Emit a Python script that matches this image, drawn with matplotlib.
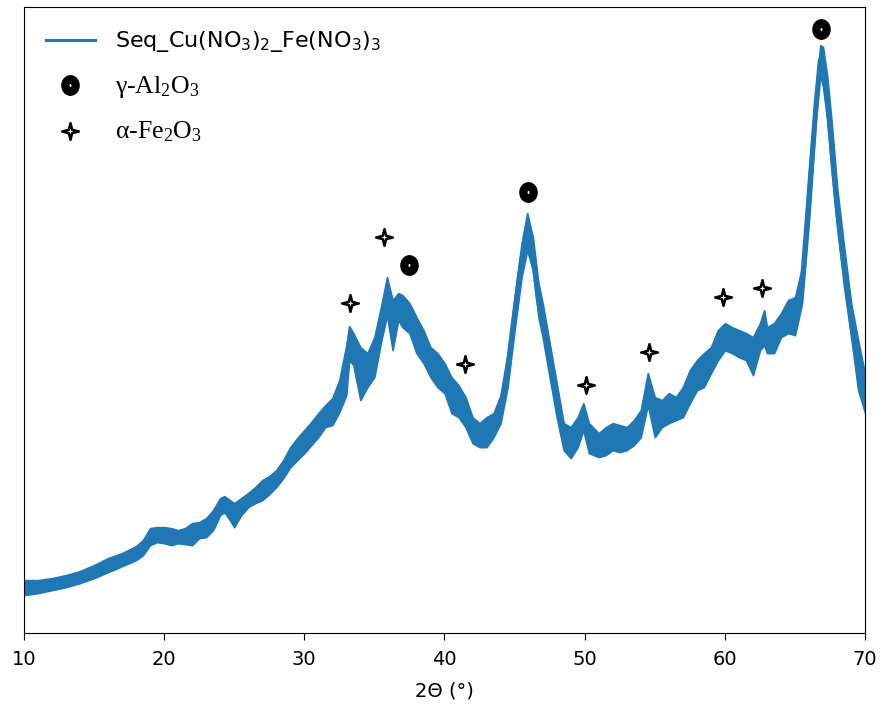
import numpy as np
import matplotlib
matplotlib.use("Agg")
import matplotlib.pyplot as plt
from matplotlib.lines import Line2D
from matplotlib.path import Path

# ── Data (arbitrary intensity units) ─────────────────────────────────────────
two_theta = [10.0, 11.0, 12.0, 13.0, 14.0, 15.0, 16.0, 17.0, 18.0, 18.5,
             19.0, 19.5, 20.0, 20.5, 21.0, 21.5, 22.0, 22.5, 23.0, 23.5,
             24.0, 24.3, 24.7, 25.0, 25.5, 26.0, 26.5, 27.0, 27.5, 28.0,
             28.5, 29.0, 29.5, 30.0, 30.5, 31.0, 31.5, 32.0, 32.5, 33.0,
             33.2, 33.5, 34.0, 34.5, 35.0, 35.5, 35.9, 36.3, 36.7, 37.0,
             37.5, 38.0, 38.5, 39.0, 39.5, 40.0, 40.5, 41.0, 41.5, 42.0,
             42.5, 43.0, 43.5, 44.0, 44.5, 45.0, 45.5, 45.9, 46.3, 46.7,
             47.0, 47.5, 48.0, 48.5, 49.0, 49.5, 49.9, 50.3, 51.0, 51.5,
             52.0, 52.5, 53.0, 53.5, 54.0, 54.5, 55.0, 55.5, 56.0, 56.5,
             57.0, 57.5, 58.0, 58.5, 59.0, 59.5, 60.0, 60.5, 61.0, 61.5,
             62.0, 62.5, 62.8, 63.0, 63.5, 64.0, 64.5, 65.0, 65.5, 66.0,
             66.5, 66.8, 67.0, 67.3, 67.6, 68.0, 68.5, 69.0, 69.5, 70.0]

# upper / lower edge of the noisy trace
i_high = [53, 53, 55, 58, 62, 68, 75, 80, 87, 93,
          105, 106, 106, 105, 103, 105, 110, 111, 115, 123,
          135, 137, 133, 130, 135, 140, 146, 153, 157, 163,
          173, 186, 195, 203, 211, 220, 228, 235, 253, 288,
          307, 300, 286, 280, 296, 328, 356, 333, 340, 338,
          330, 316, 303, 286, 280, 270, 256, 248, 236, 216,
          210, 216, 220, 238, 280, 336, 390, 420, 396, 350,
          330, 290, 250, 210, 206, 216, 230, 210, 200, 206,
          210, 208, 206, 213, 223, 260, 236, 233, 240, 236,
          246, 263, 273, 280, 286, 303, 310, 306, 303, 300,
          296, 310, 323, 306, 310, 320, 333, 336, 366, 463,
          546, 588, 586, 556, 513, 446, 386, 330, 293, 258]

i_low = [38, 40, 43, 46, 50, 55, 61, 67, 73, 78,
         88, 91, 90, 88, 90, 89, 88, 95, 96, 103,
         118, 121, 113, 106, 118, 126, 130, 133, 139, 146,
         155, 166, 173, 180, 188, 196, 206, 208, 221, 238,
         273, 268, 233, 246, 256, 293, 318, 283, 313, 306,
         300, 280, 270, 256, 246, 240, 220, 216, 206, 190,
         186, 186, 196, 210, 246, 303, 356, 383, 363, 316,
         296, 256, 216, 183, 175, 186, 203, 180, 176, 178,
         183, 181, 183, 188, 196, 228, 196, 206, 210, 213,
         216, 230, 243, 246, 260, 273, 283, 280, 276, 273,
         258, 283, 288, 280, 280, 296, 300, 298, 330, 413,
         513, 558, 546, 513, 463, 406, 346, 296, 243, 220]

# phase markers
gamma_al2o3_x = [37.46, 45.95, 66.85]
gamma_al2o3_y = [368, 441, 604]
alpha_fe2o3_x = [33.25, 35.68, 41.45, 50.09, 54.58, 59.86, 62.64]
alpha_fe2o3_y = [330, 396, 269, 248, 281, 336, 345]

BLUE = "#1f77b4"

plt.rcParams["mathtext.fontset"] = "custom"
plt.rcParams["mathtext.rm"] = "Liberation Serif"
plt.rcParams["mathtext.it"] = "Liberation Serif:italic"
plt.rcParams["mathtext.sf"] = "DejaVu Sans"

# ── Markers ──────────────────────────────────────────────────────────────────
star_verts = [(0, 1), (0.2, 0.2), (1, 0), (0.2, -0.2), (0, -1),
              (-0.2, -0.2), (-1, 0), (-0.2, 0.2), (0, 1)]
star_codes = [Path.MOVETO] + [Path.LINETO] * 7 + [Path.CLOSEPOLY]
STAR = Path(star_verts, star_codes)

circ = Path.unit_circle()
OVAL = Path(circ.vertices * np.array([0.82, 1.0]), circ.codes)

oval_kw = dict(marker=OVAL, markersize=9, markerfacecolor="white",
               markeredgecolor="black", markeredgewidth=6, linestyle="none")
star_kw = dict(marker=STAR, markersize=12, markerfacecolor="white",
               markeredgecolor="black", markeredgewidth=1.8, linestyle="none")

# ── Plot ─────────────────────────────────────────────────────────────────────
fig = plt.figure(figsize=(8.81, 7.13), dpi=100)
ax = fig.add_axes([0.027, 0.112, 0.955, 0.878])

lo = np.array(i_low, dtype=float)
hi = np.array(i_high, dtype=float)
ax.fill_between(two_theta, lo, hi, color=BLUE, linewidth=1.2, edgecolor=BLUE)
ax.plot(two_theta, (lo + hi) / 2, color=BLUE, linewidth=3.5,
        solid_joinstyle="round")
ax.plot(gamma_al2o3_x, gamma_al2o3_y, **oval_kw)
ax.plot(alpha_fe2o3_x, alpha_fe2o3_y, **star_kw)

ax.set_xlim(10, 70)
ax.set_ylim(0, 626)
ax.set_yticks([])
ax.set_xticks([10, 20, 30, 40, 50, 60, 70])
ax.tick_params(axis="x", labelsize=14, length=5, pad=7)
ax.set_xlabel("2Θ (°)", fontsize=14, labelpad=9)

handles = [Line2D([], [], color=BLUE, linewidth=2.2),
           Line2D([], [], **oval_kw),
           Line2D([], [], **star_kw)]
labels = [r"Seq_Cu(NO$_\mathsf{3}$)$_\mathsf{2}$_Fe(NO$_\mathsf{3}$)$_\mathsf{3}$",
          r"γ-Al$_2$O$_3$",
          r"α-Fe$_2$O$_3$"]
leg = ax.legend(handles, labels, loc="upper left", frameon=False, fontsize=16,
                handlelength=2.2, handletextpad=0.9, labelspacing=0.88,
                borderaxespad=0.6)
for t in leg.get_texts()[1:]:
    t.set_family("Liberation Serif")
    t.set_fontsize(18.5)

fig.savefig("out.png", dpi=100)
